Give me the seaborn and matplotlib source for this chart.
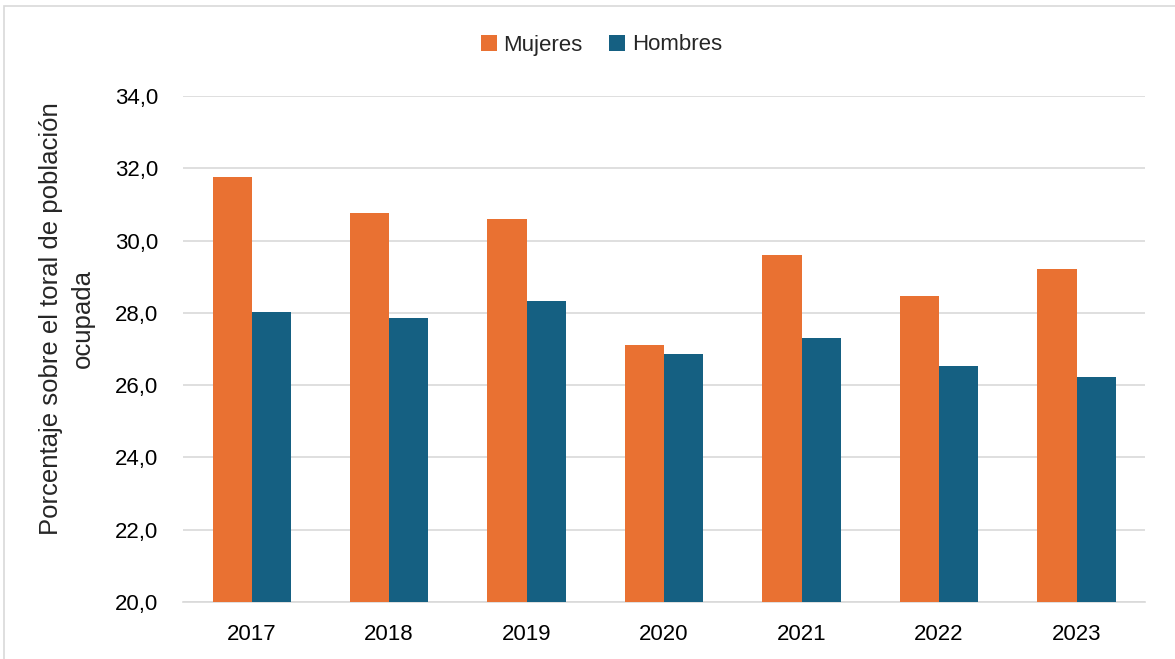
import pandas as pd
import seaborn as sns
import matplotlib.pyplot as plt
from matplotlib.patches import Rectangle
from matplotlib.ticker import FuncFormatter

years = ["2017", "2018", "2019", "2020", "2021", "2022", "2023"]
mujeres = [31.77, 30.75, 30.6, 27.1, 29.6, 28.47, 29.22]
hombres = [28.03, 27.86, 28.34, 26.87, 27.31, 26.53, 26.23]

df = pd.DataFrame({
    "Año": years * 2,
    "Valor": mujeres + hombres,
    "Sexo": ["Mujeres"] * len(years) + ["Hombres"] * len(years),
})

sns.set_theme(style="white")
plt.rcParams["font.family"] = ["Liberation Sans", "DejaVu Sans"]

fig = plt.figure(figsize=(11.75, 6.59), dpi=100)
ax = fig.add_axes([0.1557, 0.0865, 0.819, 0.7678])

# ── Bars ──
sns.barplot(data=df, x="Año", y="Valor", hue="Sexo",
            palette={"Mujeres": "#E97132", "Hombres": "#156082"},
            saturation=1, linewidth=0, width=0.57, ax=ax, zorder=3)

ax.set_ylim(20, 34)
ax.set_yticks([20, 22, 24, 26, 28, 30, 32, 34])
ax.yaxis.set_major_formatter(FuncFormatter(lambda v, p: f"{v:.1f}".replace(".", ",")))
ax.grid(axis="y", color="#d9d9d9", linewidth=1.2, zorder=0)
for s in ["top", "right", "left"]:
    ax.spines[s].set_visible(False)
ax.spines["bottom"].set_color("#d9d9d9")
ax.spines["bottom"].set_linewidth(1.2)
ax.tick_params(axis="y", length=0, labelsize=16, colors="#000000", pad=18)
ax.tick_params(axis="x", length=0, labelsize=16, colors="#000000", pad=16)
ax.set_xlabel("")
ax.set_ylabel("Porcentaje sobre el toral de población\nocupada", fontsize=18.5,
              linespacing=1.4, va="center", ha="center")
ax.yaxis.set_label_coords(-0.1206, 0.561)

ax.legend(loc="center", bbox_to_anchor=(0.512, 1 - 45 / 659), bbox_transform=fig.transFigure,
          ncol=2, frameon=False, fontsize=16, handlelength=0.7, handleheight=0.7,
          handletextpad=0.3, columnspacing=1.2)

# light frame around the chart
fig.patches.append(Rectangle((0.0035, -0.01), 1.0, 1.001, transform=fig.transFigure,
                             fill=False, edgecolor="#d9d9d9", linewidth=1.2))

fig.savefig("out.png", dpi=100)
